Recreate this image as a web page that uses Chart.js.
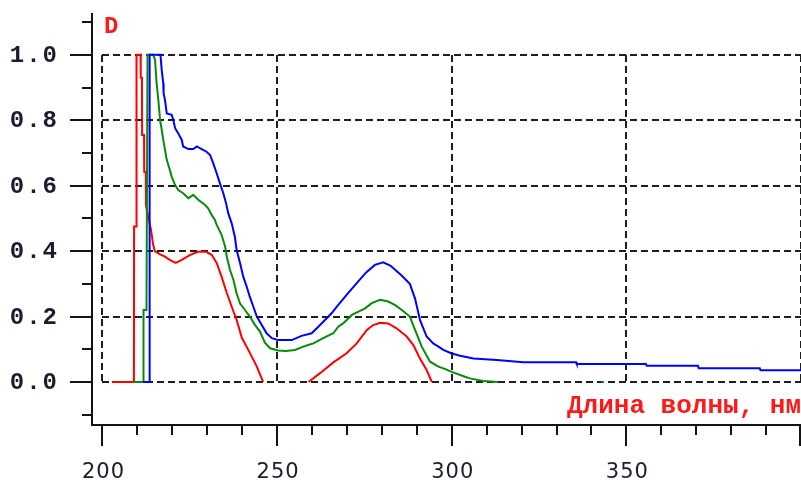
<!DOCTYPE html>
<html>
<head>
<meta charset="utf-8">
<script src="https://cdn.jsdelivr.net/npm/chart.js@4/dist/chart.umd.min.js"></script>
<style>
  html, body { margin: 0; padding: 0; background: #fff; }
  canvas { display: block; }
</style>
</head>
<body>
<canvas id="spectrum" width="801" height="481"></canvas>
<script>
// Absorption spectra: optical density D versus wavelength, nm
const redWl   = [202.7, 209.0, 209.05, 209.7, 209.75, 210.9, 210.95, 211.3, 211.35, 211.9, 211.95, 212.4, 212.45, 213.2, 213.9, 214.5, 215.0, 216.5, 217.9, 219.0, 220.2, 221.0, 222.7, 225.0, 227.3, 229.8, 231.3, 232.7, 234.1, 235.6, 237.0, 238.4, 239.9, 242.2, 244.2, 246.0, 252.0, 259.0, 262.3, 266.1, 269.9, 272.8, 275.7, 277.5, 279.5, 281.8, 284.2, 287.1, 289.0, 290.9, 292.8, 294.3];
const redD    = [0, 0, 0.475, 0.475, 1.0, 1.0, 0.93, 0.93, 0.755, 0.755, 0.643, 0.643, 0.54, 0.50, 0.465, 0.42, 0.40, 0.39, 0.383, 0.375, 0.368, 0.364, 0.373, 0.388, 0.398, 0.398, 0.388, 0.364, 0.322, 0.272, 0.23, 0.19, 0.135, 0.089, 0.047, 0, null, 0, 0.027, 0.06, 0.088, 0.118, 0.159, 0.174, 0.181, 0.179, 0.164, 0.139, 0.113, 0.072, 0.037, 0];

const greenWl = [209.0, 211.7, 211.75, 212.6, 212.9, 214.5, 215.04, 215.5, 216.0, 216.5, 216.96, 217.4, 217.9, 218.4, 219.3, 219.8, 220.8, 221.7, 223.1, 224.6, 226.0, 227.4, 229.4, 230.3, 231.3, 232.2, 232.7, 234.1, 235.1, 235.6, 236.5, 237.5, 238.4, 239.4, 240.8, 242.2, 243.7, 245.1, 246.5, 248.0, 250.3, 252.5, 255.1, 257.5, 258.9, 260.4, 263.2, 266.1, 267.5, 268.9, 271.4, 273.3, 275.2, 277.1, 279.5, 281.8, 283.8, 285.7, 288.0, 289.5, 291.4, 293.8, 296.2, 298.0, 300.0, 303.8, 305.2, 309.0, 313.3, 330.0, 342.8, 343.6];
const greenD  = [0, 0, 0.22, 0.22, 1.0, 1.0, 0.985, 0.913, 0.862, 0.80, 0.771, 0.74, 0.71, 0.679, 0.648, 0.628, 0.602, 0.587, 0.577, 0.562, 0.572, 0.557, 0.541, 0.53, 0.51, 0.495, 0.48, 0.45, 0.414, 0.383, 0.343, 0.312, 0.271, 0.24, 0.22, 0.20, 0.174, 0.154, 0.12, 0.103, 0.096, 0.095, 0.098, 0.108, 0.113, 0.118, 0.134, 0.149, 0.169, 0.179, 0.205, 0.215, 0.225, 0.241, 0.251, 0.246, 0.235, 0.22, 0.20, 0.159, 0.108, 0.062, 0.047, 0.04, 0.031, 0.016, 0.011, 0.003, 0, null, 0, 0];

const blueWl  = [211.6, 213.4, 213.5, 216.6, 216.96, 217.4, 217.5, 217.9, 218.4, 219.8, 220.3, 220.8, 221.7, 222.7, 223.1, 224.6, 226.0, 227.0, 228.4, 229.8, 230.8, 231.7, 232.7, 233.6, 234.6, 235.4, 236.0, 237.0, 237.9, 238.4, 239.4, 240.3, 241.3, 242.2, 243.2, 244.2, 245.6, 247.0, 248.5, 250.3, 254.2, 257.0, 259.9, 261.8, 264.2, 265.6, 267.1, 270.2, 272.8, 275.5, 278.0, 280.4, 282.5, 285.5, 288.0, 289.5, 290.9, 292.8, 294.7, 296.2, 297.6, 300.0, 302.4, 303.8, 306.2, 312.9, 320.5, 335.6, 335.8, 355.6, 355.8, 370.5, 370.7, 388.2, 388.4, 400.0];
const blueD   = [0, 0, 1.0, 1.0, 0.954, 0.913, 0.883, 0.862, 0.821, 0.817, 0.80, 0.776, 0.76, 0.74, 0.72, 0.712, 0.712, 0.72, 0.712, 0.704, 0.694, 0.669, 0.638, 0.608, 0.577, 0.546, 0.516, 0.485, 0.444, 0.404, 0.363, 0.322, 0.291, 0.26, 0.23, 0.2, 0.174, 0.149, 0.134, 0.128, 0.128, 0.141, 0.149, 0.169, 0.195, 0.21, 0.23, 0.27, 0.302, 0.335, 0.358, 0.366, 0.355, 0.327, 0.30, 0.255, 0.19, 0.139, 0.118, 0.108, 0.098, 0.087, 0.080, 0.077, 0.072, 0.067, 0.06, 0.06, 0.055, 0.055, 0.05, 0.05, 0.042, 0.042, 0.036, 0.036];

// Axis ticks and labels
const yTicks      = [0, 0.2, 0.4, 0.6, 0.8, 1.0];
const yTickLabels = ['0.0', '0.2', '0.4', '0.6', '0.8', '1.0'];
const yMinorTicks = [-0.1, 0.1, 0.3, 0.5, 0.7, 0.9, 1.1];
const xTicks      = [200, 250, 300, 350, 400];
const xTickLabels = ['200', '250', '300', '350'];
const xMinorTicks = [210, 220, 230, 240, 260, 270, 280, 290, 310, 320, 330, 340, 360, 370, 380, 390];
const yTitle = 'D';
const xTitle = 'Длина волны, нм';

const toPoints = (wl, d) => wl.map((w, i) => ({ x: w, y: d[i] }));

// Dashed grid inside the 200–400 nm × 0–1 box, plus the axes with their ticks and labels
const frame = {
  id: 'frame',
  beforeDatasetsDraw(chart) {
    const { ctx, scales: { x, y } } = chart;
    const xl = Math.round(x.getPixelForValue(200)), xr = Math.round(x.getPixelForValue(400));
    const yt = Math.round(y.getPixelForValue(1)),   yb = Math.round(y.getPixelForValue(0));
    ctx.save();
    ctx.strokeStyle = '#1e1e1e';
    ctx.lineWidth = 2;
    ctx.setLineDash([7, 4]);
    ctx.beginPath();
    yTicks.forEach(v => {
      const py = Math.round(y.getPixelForValue(v));
      ctx.moveTo(xl, py); ctx.lineTo(xr, py);
    });
    xTicks.forEach(v => {
      const px = Math.round(x.getPixelForValue(v));
      ctx.moveTo(px, yt); ctx.lineTo(px, yb);
    });
    ctx.stroke();
    ctx.restore();
  },
  afterDraw(chart) {
    const { ctx, chartArea: a, scales: { x, y } } = chart;
    ctx.save();
    ctx.strokeStyle = '#141414';
    ctx.lineWidth = 2;
    ctx.setLineDash([]);
    ctx.beginPath();
    // axis lines
    ctx.moveTo(a.left, a.top); ctx.lineTo(a.left, a.bottom + 1);
    ctx.moveTo(a.left - 1, a.bottom); ctx.lineTo(a.right, a.bottom);
    // y ticks
    yTicks.forEach(v => {
      const py = Math.round(y.getPixelForValue(v));
      ctx.moveTo(a.left - 22, py); ctx.lineTo(a.left, py);
    });
    yMinorTicks.forEach(v => {
      const py = Math.round(y.getPixelForValue(v));
      ctx.moveTo(a.left - 10, py); ctx.lineTo(a.left, py);
    });
    // x ticks
    xTicks.forEach(v => {
      const px = Math.min(Math.round(x.getPixelForValue(v)), a.right - 1);
      ctx.moveTo(px, a.bottom); ctx.lineTo(px, a.bottom + 21);
    });
    xMinorTicks.forEach(v => {
      const px = Math.round(x.getPixelForValue(v));
      ctx.moveTo(px, a.bottom); ctx.lineTo(px, a.bottom + 10);
    });
    ctx.stroke();

    // y tick labels
    ctx.fillStyle = '#1c1c2c';
    ctx.font = 'bold 24px "Liberation Mono", "DejaVu Sans Mono", monospace';
    ctx.letterSpacing = '2px';
    ctx.textAlign = 'right';
    ctx.textBaseline = 'middle';
    yTicks.forEach((v, i) => {
      ctx.fillText(yTickLabels[i], a.left - 33, y.getPixelForValue(v) + 1);
    });

    // x tick labels
    ctx.font = '21px "DejaVu Sans", Verdana, sans-serif';
    ctx.letterSpacing = '1px';
    ctx.textAlign = 'center';
    ctx.textBaseline = 'alphabetic';
    xTickLabels.forEach((t, i) => {
      ctx.fillText(t, x.getPixelForValue(xTicks[i]) + 1, a.bottom + 53);
    });

    // axis titles
    ctx.fillStyle = '#ff1a1a';
    ctx.letterSpacing = '0px';
    ctx.textAlign = 'left';
    ctx.font = 'bold 24px "Liberation Mono", "DejaVu Sans Mono", monospace';
    ctx.fillText(yTitle, a.left + 12, a.top + 20);
    ctx.font = 'bold 26px "Liberation Mono", "DejaVu Sans Mono", monospace';
    ctx.fillText(xTitle, 567, 413);
    ctx.restore();
  }
};

new Chart(document.getElementById('spectrum'), {
  type: 'line',
  data: {
    datasets: [
      { data: toPoints(blueWl, blueD),   borderColor: '#0000ff', order: 1 },
      { data: toPoints(greenWl, greenD), borderColor: '#0a8a0a', order: 2 },
      { data: toPoints(redWl, redD),     borderColor: '#ff0000', order: 3 }
    ]
  },
  options: {
    responsive: false,
    animation: false,
    devicePixelRatio: 1,
    layout: { padding: { left: 92, right: 0, top: 13, bottom: 56 } },
    elements: {
      line: { borderWidth: 2, tension: 0, fill: false },
      point: { radius: 0, hoverRadius: 0 }
    },
    spanGaps: false,
    plugins: { legend: { display: false }, tooltip: { enabled: false } },
    scales: {
      x: { type: 'linear', min: 197, max: 400, display: false },
      y: { type: 'linear', min: -0.1315, max: 1.128, display: false }
    }
  },
  plugins: [frame]
});
</script>
</body>
</html>
